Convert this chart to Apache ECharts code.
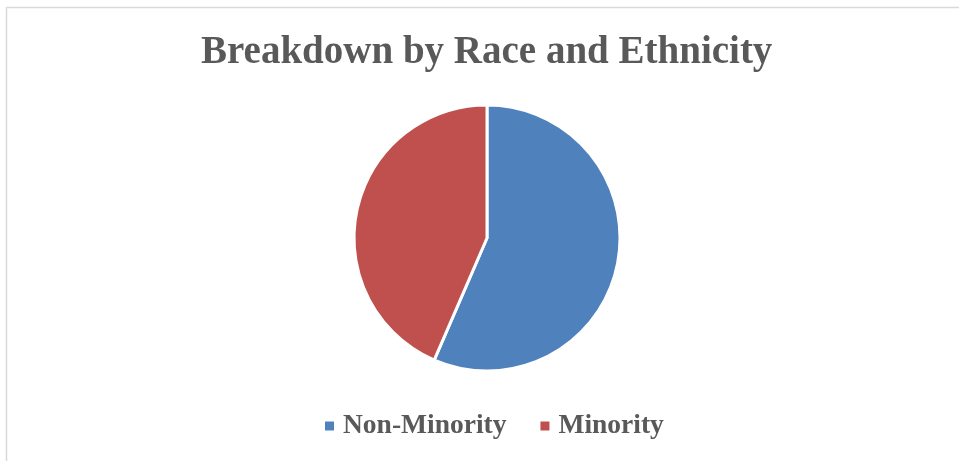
<!DOCTYPE html>
<html><head><meta charset="utf-8">
<script src="https://cdn.jsdelivr.net/npm/echarts@6/dist/echarts.min.js"></script>
<style>html,body{margin:0;padding:0;background:#fff}#c{width:959px;height:461px}</style>
</head><body><div id="c"></div>
<script>
const categories = ['Non-Minority', 'Minority'];
const values = [56.5, 43.5];
const colors = ['#4F81BD', '#C0504D'];
const titleText = 'Breakdown by Race and Ethnicity';

const chart = echarts.init(document.getElementById('c'), null, {renderer: 'canvas'});
chart.setOption({
  animation: false,
  backgroundColor: '#fff',
  graphic: [{
    type: 'rect', shape: {x: 6.5, y: 7.5, width: 1000, height: 500},
    style: {fill: 'none', stroke: '#d9d9d9', lineWidth: 1.5}, silent: true
  }],
  title: {
    text: titleText, left: 196, top: 28,
    textStyle: {fontFamily: 'Liberation Serif', fontWeight: 'bold', fontSize: 39, color: '#595959'}
  },
  legend: {
    bottom: 16, left: 318, itemWidth: 11, itemHeight: 11, itemGap: 32,
    icon: 'rect',
    textStyle: {fontFamily: 'Liberation Serif', fontWeight: 'bold', fontSize: 27.5, color: '#595959', padding: [0, 0, 0, 3]},
    data: categories
  },
  series: [{
    type: 'pie', center: [487, 238], radius: 133, startAngle: 90, clockwise: true,
    label: {show: false}, labelLine: {show: false},
    itemStyle: {borderColor: '#fff', borderWidth: 3},
    data: categories.map((n, i) => ({name: n, value: values[i], itemStyle: {color: colors[i]}}))
  }]
});
</script></body></html>
